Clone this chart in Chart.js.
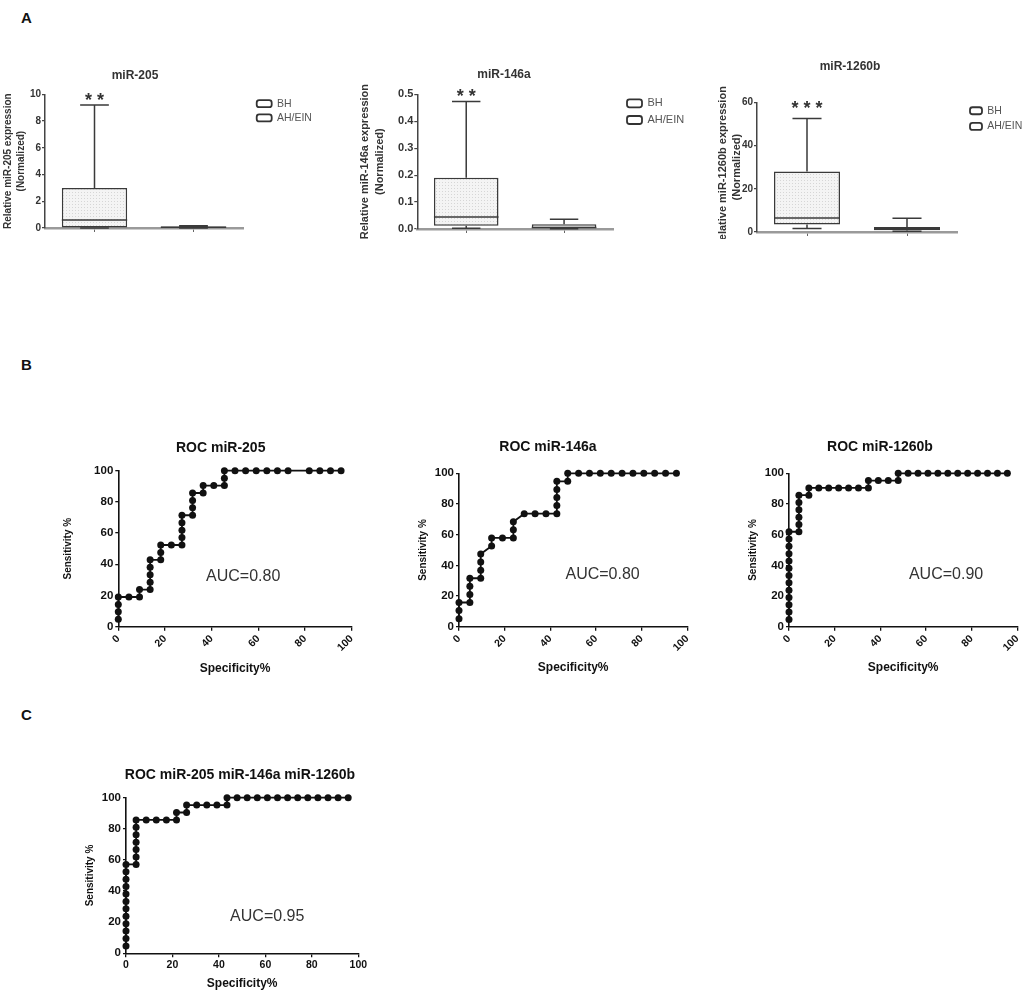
<!DOCTYPE html>
<html>
<head>
<meta charset="utf-8">
<script src="https://cdn.jsdelivr.net/npm/chart.js@4.4.1/dist/chart.umd.min.js"></script>
<style>
  html, body { margin: 0; padding: 0; background: #fff; }
  #page { position: relative; width: 1030px; height: 994px; overflow: hidden; font-family: "Liberation Sans", Arial, sans-serif; }
  #page canvas { position: absolute; }
  .letter { position: absolute; left: 21px; font-size: 15px; line-height: 15px; font-weight: bold; color: #111; }
</style>
</head>
<body>
<div id="page">
  <div class="letter" style="top:10px">A</div>
  <div class="letter" style="top:357px">B</div>
  <div class="letter" style="top:707px">C</div>
  <canvas id="box205"></canvas>
  <canvas id="box146a"></canvas>
  <canvas id="box1260b"></canvas>
  <canvas id="roc205"></canvas>
  <canvas id="roc146a"></canvas>
  <canvas id="roc1260b"></canvas>
  <canvas id="rocAll"></canvas>
</div>
<script>
// groups and box summaries: [min, Q1, median, Q3, max]
const groups = ["BH", "AH/EIN"];
const mir205BH = [0, 0, 0.6, 3.0, 9.2];
const mir205AH = [0, 0.01, 0.05, 0.12, 0.17];
const mir146aBH = [0.003, 0.012, 0.045, 0.19, 0.473];
const mir146aAH = [0.001, 0.003, 0.006, 0.018, 0.036];
const mir1260bBH = [1.6, 3.5, 6.5, 28, 52.5];
const mir1260bAH = [0.3, 0.8, 1.5, 2.3, 6.4];
const significance = ["* *", "* *", "* * *"];

// ROC curves (x = Specificity%, y = Sensitivity %)
const roc205Spec = [0, 0, 0, 0, 4.55, 9.09, 9.09, 13.64, 13.64, 13.64, 13.64, 13.64, 18.18, 18.18, 18.18, 22.73,
  27.27, 27.27, 27.27, 27.27, 27.27, 31.82, 31.82, 31.82, 31.82, 36.36, 36.36, 40.91, 45.45, 45.45, 45.45,
  50, 54.55, 59.09, 63.64, 68.18, 72.73, 81.82, 86.36, 90.91, 95.45];
const roc205Sens = [4.76, 9.52, 14.29, 19.05, 19.05, 19.05, 23.81, 23.81, 28.57, 33.33, 38.1, 42.86, 42.86, 47.62, 52.38, 52.38,
  52.38, 57.14, 61.9, 66.67, 71.43, 71.43, 76.19, 80.95, 85.71, 85.71, 90.48, 90.48, 90.48, 95.24, 100,
  100, 100, 100, 100, 100, 100, 100, 100, 100, 100];

const roc146aSpec = [0, 0, 0, 4.76, 4.76, 4.76, 4.76, 9.52, 9.52, 9.52, 9.52, 14.29, 14.29, 19.05, 23.81, 23.81, 23.81,
  28.57, 33.33, 38.1, 42.86, 42.86, 42.86, 42.86, 42.86, 47.62, 47.62,
  52.38, 57.14, 61.9, 66.67, 71.43, 76.19, 80.95, 85.71, 90.48, 95.24];
const roc146aSens = [5.26, 10.53, 15.79, 15.79, 21.05, 26.32, 31.58, 31.58, 36.84, 42.11, 47.37, 52.63, 57.89, 57.89, 57.89, 63.16, 68.42,
  73.68, 73.68, 73.68, 73.68, 78.95, 84.21, 89.47, 94.74, 94.74, 100,
  100, 100, 100, 100, 100, 100, 100, 100, 100, 100];

const roc1260bSpec = [0, 0, 0, 0, 0, 0, 0, 0, 0, 0, 0, 0, 0, 4.35, 4.35, 4.35, 4.35, 4.35, 4.35, 8.7, 8.7,
  13.04, 17.39, 21.74, 26.09, 30.43, 34.78, 34.78, 39.13, 43.48, 47.83, 47.83,
  52.17, 56.52, 60.87, 65.22, 69.57, 73.91, 78.26, 82.61, 86.96, 91.3, 95.65];
const roc1260bSens = [4.76, 9.52, 14.29, 19.05, 23.81, 28.57, 33.33, 38.1, 42.86, 47.62, 52.38, 57.14, 61.9,
  61.9, 66.67, 71.43, 76.19, 80.95, 85.71, 85.71, 90.48,
  90.48, 90.48, 90.48, 90.48, 90.48, 90.48, 95.24, 95.24, 95.24, 95.24, 100,
  100, 100, 100, 100, 100, 100, 100, 100, 100, 100, 100];

const rocAllSpec = [0, 0, 0, 0, 0, 0, 0, 0, 0, 0, 0, 0, 4.35, 4.35, 4.35, 4.35, 4.35, 4.35, 4.35,
  8.7, 13.04, 17.39, 21.74, 21.74, 26.09, 26.09, 30.43, 34.78, 39.13, 43.48, 43.48,
  47.83, 52.17, 56.52, 60.87, 65.22, 69.57, 73.91, 78.26, 82.61, 86.96, 91.3, 95.65];
const rocAllSens = [4.76, 9.52, 14.29, 19.05, 23.81, 28.57, 33.33, 38.1, 42.86, 47.62, 52.38, 57.14,
  57.14, 61.9, 66.67, 71.43, 76.19, 80.95, 85.71,
  85.71, 85.71, 85.71, 85.71, 90.48, 90.48, 95.24, 95.24, 95.24, 95.24, 95.24, 100,
  100, 100, 100, 100, 100, 100, 100, 100, 100, 100, 100, 100];

const aucLabels = ["AUC=0.80", "AUC=0.80", "AUC=0.90", "AUC=0.95"];

const FONT = '"Liberation Sans", Arial, sans-serif';
Chart.defaults.font.family = FONT;
Chart.defaults.color = "#222";
Chart.defaults.animation = false;

// light dotted fill used by the boxes
function dotPattern() {
  const c = document.createElement("canvas");
  c.width = 3; c.height = 3;
  const g = c.getContext("2d");
  g.fillStyle = "#f4f4f4"; g.fillRect(0, 0, 3, 3);
  g.fillStyle = "#d6d6d6"; g.fillRect(0, 0, 1, 1);
  return g.createPattern(c, "repeat");
}
const boxFill = dotPattern();

// moves the title / legend boxes after layout
const pin = {
  id: "pin",
  afterLayout(chart, args, opts) {
    if (opts.titleX != null && chart.titleBlock) {
      chart.titleBlock.left = opts.titleX - 200;
      chart.titleBlock.right = opts.titleX + 200;
    }
    if (opts.legendX != null && chart.legend) {
      const lg = chart.legend;
      lg.left = opts.legendX; lg.right = chart.width;
      lg.top = opts.legendY; lg.bottom = chart.height;
    }
  }
};

// whiskers, caps and median on top of the floating bars
const boxWhiskers = {
  id: "boxWhiskers",
  afterDatasetsDraw(chart) {
    const ctx = chart.ctx, y = chart.scales.y;
    chart.data.datasets.forEach((ds, i) => {
      if (!ds.stats) return;
      const bar = chart.getDatasetMeta(i).data[i];
      const [lo, q1, med, q3, hi] = ds.stats.map(v => y.getPixelForValue(v));
      const cx = bar.x, half = bar.width / 2, cap = bar.width * 0.22;
      ctx.save();
      ctx.strokeStyle = "#3a3a3a";
      ctx.lineWidth = 1.5;
      ctx.beginPath();
      ctx.moveTo(cx, q3); ctx.lineTo(cx, hi);
      ctx.moveTo(cx - cap, hi); ctx.lineTo(cx + cap, hi);
      ctx.moveTo(cx, q1); ctx.lineTo(cx, lo);
      ctx.moveTo(cx - cap, lo); ctx.lineTo(cx + cap, lo);
      ctx.moveTo(cx - half, med); ctx.lineTo(cx + half, med);
      ctx.stroke();
      ctx.restore();
    });
  }
};

// text placed at data coordinates
const dataText = {
  id: "dataText",
  afterDatasetsDraw(chart, args, opts) {
    const ctx = chart.ctx, x = chart.scales.x, y = chart.scales.y;
    (opts.items || []).forEach(it => {
      ctx.save();
      ctx.font = it.font;
      ctx.fillStyle = it.color || "#222";
      ctx.textAlign = "center";
      ctx.textBaseline = "middle";
      ctx.fillText(it.text, x.getPixelForValue(it.x), y.getPixelForValue(it.y));
      ctx.restore();
    });
  }
};

// legend swatches: open rounded boxes
function whiteLabels(chart) {
  return Chart.defaults.plugins.legend.labels.generateLabels(chart)
    .map(item => ({ ...item, fillStyle: "#fff", strokeStyle: "#333", lineWidth: 1.8 }));
}

function place(id, f) {
  const c = document.getElementById(id);
  c.width = f.w; c.height = f.h;
  c.style.left = f.left + "px"; c.style.top = f.top + "px";
  c.style.width = f.w + "px"; c.style.height = f.h + "px";
  return c;
}

function boxChart(id, f, bh, ah, o) {
  const style = {
    backgroundColor: boxFill, borderColor: "#3a3a3a", borderWidth: 1.5, borderSkipped: false,
    grouped: false, barPercentage: 0.66, categoryPercentage: 1
  };
  new Chart(place(id, f), {
    type: "bar",
    data: {
      labels: groups,
      datasets: [
        { label: groups[0], data: [[bh[1], bh[3]], null], stats: bh, ...style },
        { label: groups[1], data: [null, [ah[1], ah[3]]], stats: ah, ...style }
      ]
    },
    options: {
      responsive: false,
      layout: { padding: { right: o.padR } },
      plugins: {
        title: { display: true, text: o.title, color: "#333", font: { size: 12, weight: "bold" },
          padding: { top: o.tpt, bottom: o.tpb } },
        legend: {
          position: "right", align: "start", maxWidth: 1,
          labels: { boxWidth: o.lgBox[0], boxHeight: o.lgBox[1], padding: o.lgPad, color: "#555",
            font: { size: o.lgFont }, useBorderRadius: true, borderRadius: 2.5, generateLabels: whiteLabels }
        },
        tooltip: { enabled: false },
        pin: { titleX: o.titleX, legendX: o.legendX, legendY: o.legendY },
        dataText: { items: [{ x: 0, y: o.starY, text: o.stars, font: "bold 18px " + FONT, color: "#333" }] }
      },
      scales: {
        x: {
          ticks: { display: false },
          grid: { display: true, offset: false, drawOnChartArea: false, tickLength: 4, color: "#666" },
          border: { color: "#9a9a9a", width: 2.5 },
          afterFit: s => { s.height = o.xh; }
        },
        y: {
          min: 0, max: o.max,
          ticks: { stepSize: o.step, color: "#333", padding: 1, font: { size: o.tickFont, weight: "bold" },
            callback: o.fmt || (v => v) },
          grid: { drawOnChartArea: false, tickLength: 3, color: "#444", lineWidth: 1.2 },
          border: { color: "#444", width: 1.5 },
          title: { display: true, text: o.ytitle, color: "#333",
            font: { size: o.ytFont, weight: "bold", lineHeight: o.ytLh }, padding: { top: o.ytpt, bottom: 0 } },
          afterFit: s => { s.width = o.yw; }
        }
      }
    },
    plugins: [pin, boxWhiskers, dataText]
  });
}

function rocChart(id, f, spec, sens, o) {
  new Chart(place(id, f), {
    type: "scatter",
    data: {
      datasets: [{
        data: spec.map((s, i) => ({ x: s, y: sens[i] })),
        showLine: true, borderColor: "#111", borderWidth: 1.8,
        pointRadius: 3.5, pointHoverRadius: 3.5, pointBackgroundColor: "#111", pointBorderWidth: 0,
        clip: false
      }]
    },
    options: {
      responsive: false,
      layout: { padding: { right: o.padR } },
      plugins: {
        title: { display: true, text: o.title, color: "#111", font: { size: 14, weight: "bold" },
          padding: { top: 2, bottom: o.tpb } },
        legend: { display: false },
        tooltip: { enabled: false },
        pin: { titleX: o.titleX },
        dataText: { items: [{ x: o.auc[0], y: o.auc[1], text: o.aucText, font: "16px " + FONT, color: "#333" }] }
      },
      scales: {
        x: {
          type: "linear", min: 0, max: 100,
          ticks: { stepSize: 20, minRotation: o.rot, maxRotation: o.rot, padding: 2, color: "#111",
            font: { size: 10.5, weight: "bold" } },
          grid: { drawOnChartArea: false, tickLength: 4, color: "#111", lineWidth: 1.3 },
          border: { color: "#111", width: 1.6 },
          title: { display: true, text: "Specificity%", color: "#111", font: { size: 12, weight: "bold" },
            padding: { top: 0, bottom: o.xtpb } },
          afterFit: s => { s.height = o.xh; }
        },
        y: {
          min: 0, max: 100,
          ticks: { stepSize: 20, padding: 2, color: "#111", font: { size: 11.5, weight: "bold" } },
          grid: { drawOnChartArea: false, tickLength: 3, color: "#111", lineWidth: 1.3 },
          border: { color: "#111", width: 1.6 },
          title: { display: true, text: "Sensitivity %", color: "#111", font: { size: 10, weight: "bold" },
            padding: { top: 2, bottom: 0 } },
          afterFit: s => { s.width = o.yw; }
        }
      }
    },
    plugins: [pin, dataText]
  });
}

// panel A
boxChart("box205", { left: 0, top: 66, w: 320, h: 169 }, mir205BH, mir205AH, {
  title: "miR-205", titleX: 135, tpt: 2, tpb: 11.9, padR: 76, xh: 6, yw: 45,
  max: 10, step: 2, tickFont: 10,
  ytitle: ["Relative miR-205 expression", "(Normalized)"], ytFont: 10, ytLh: 1.35, ytpt: 1.2,
  lgBox: [15, 7], lgPad: 3.8, lgFont: 10.5, legendX: 252.9, legendY: 28.6,
  stars: significance[0], starY: 9.52
});
boxChart("box146a", { left: 355, top: 65, w: 345, h: 177 }, mir146aBH, mir146aAH, {
  title: "miR-146a", titleX: 149, tpt: 2, tpb: 12.9, padR: 86, xh: 13, yw: 62.3,
  max: 0.5, step: 0.1, tickFont: 11, fmt: v => v.toFixed(1),
  ytitle: ["Relative miR-146a expression", "(Normalized)"], ytFont: 11, ytLh: 1.35, ytpt: 2.5,
  lgBox: [15, 8], lgPad: 5.7, lgFont: 11, legendX: 266.3, legendY: 27.1,
  stars: significance[1], starY: 0.491
});
boxChart("box1260b", { left: 714, top: 57, w: 316, h: 182 }, mir1260bBH, mir1260bAH, {
  title: "miR-1260b", titleX: 136, tpt: 2.5, tpb: 28.4, padR: 72, xh: 2.3, yw: 43,
  max: 60, step: 20, tickFont: 10,
  ytitle: ["Relative miR-1260b expression", "(Normalized)"], ytFont: 11, ytLh: 1.27, ytpt: 2,
  lgBox: [12, 7], lgPad: 5.2, lgFont: 10.5, legendX: 250.8, legendY: 43.3,
  stars: significance[2], starY: 57
});

// panel B
rocChart("roc205", { left: 60, top: 438, w: 304, h: 240 }, roc205Spec, roc205Sens, {
  title: "ROC miR-205", titleX: 160.7, tpb: 13.9, padR: 12.3, yw: 58.3, xh: 51.3, xtpb: 2.5, rot: 45,
  aucText: aucLabels[0], auc: [53.5, 32]
});
rocChart("roc146a", { left: 415, top: 437, w: 285, h: 240 }, roc146aSpec, roc146aSens, {
  title: "ROC miR-146a", titleX: 133, tpb: 17.5, padR: 12.7, yw: 44, xh: 50.3, xtpb: 1.8, rot: 45,
  aucText: aucLabels[1], auc: [62.9, 33.7]
});
rocChart("roc1260b", { left: 745, top: 437, w: 285, h: 240 }, roc1260bSpec, roc1260bSens, {
  title: "ROC miR-1260b", titleX: 135, tpb: 17.5, padR: 12.7, yw: 44, xh: 50.3, xtpb: 1.8, rot: 45,
  aucText: aucLabels[2], auc: [68.8, 33.7]
});

// panel C
rocChart("rocAll", { left: 82, top: 765, w: 289, h: 228 }, rocAllSpec, rocAllSens, {
  title: "ROC miR-205 miR-146a miR-1260b", titleX: 158, tpb: 13.9, padR: 12.7, yw: 44, xh: 39.7, xtpb: 2.5, rot: 0,
  aucText: aucLabels[3], auc: [60.8, 23.5]
});
</script>
</body>
</html>
